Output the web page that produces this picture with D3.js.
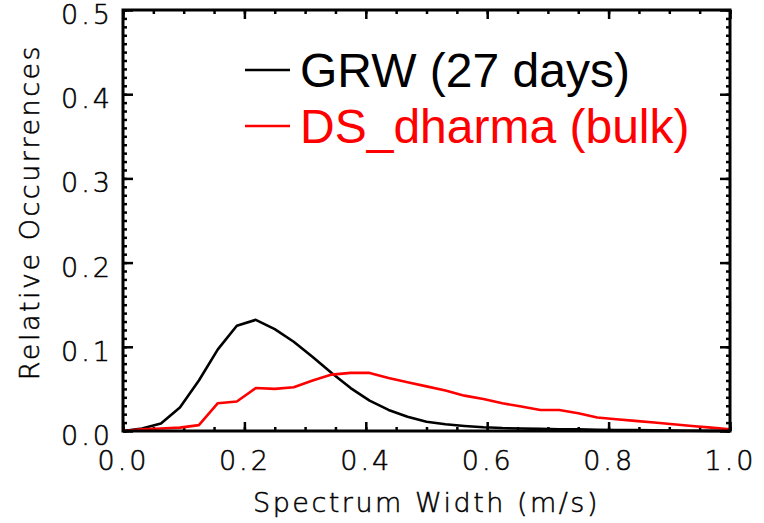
<!DOCTYPE html>
<html lang="en">
<head>
<meta charset="UTF-8">
<title>Spectrum Width</title>
<script src="https://d3js.org/d3.v7.min.js"></script>
<style>
    body { margin: 0; background: #fff; }
    .tick text, .axis-title {
        font-family: "DejaVu Sans", sans-serif;
        font-weight: 200;
        fill: #000;
        stroke: #000;
        stroke-width: 0.5px;
    }
    .legend text {
        font-family: "Liberation Sans", Arial, sans-serif;
    }
</style>
</head>
<body>
<script>
// bins of 1/32 m/s
const widths = d3.range(33).map(k => k / 32);

const grw = [0, 0.003, 0.009, 0.028, 0.060, 0.097, 0.125, 0.132, 0.121, 0.106,
    0.088, 0.069, 0.051, 0.036, 0.025, 0.017, 0.011, 0.008, 0.006, 0.0045,
    0.0035, 0.003, 0.0025, 0.002, 0.002, 0.0015, 0.001, 0.001, 0.0008, 0.0005,
    0.0003, 0.0002, 0.0001];

const dharma = [0, 0.002, 0.003, 0.004, 0.007, 0.033, 0.035, 0.051, 0.050, 0.052,
    0.060, 0.067, 0.069, 0.069, 0.063, 0.058, 0.053, 0.048, 0.042, 0.038,
    0.033, 0.029, 0.025, 0.025, 0.021, 0.016, 0.014, 0.012, 0.010, 0.008,
    0.006, 0.004, 0.002];

const seriesNames = ["GRW (27 days)", "DS_dharma (bulk)"];
const seriesColors = ["#000000", "#ff0000"];

const xMajor = [0, 0.2, 0.4, 0.6, 0.8, 1.0];
const yMajor = [0, 0.1, 0.2, 0.3, 0.4, 0.5];

const width = 764, height = 523;
const plotLeft = 123, plotRight = 730, plotTop = 10, plotBottom = 431;

const svg = d3.select("body").append("svg")
    .attr("width", width)
    .attr("height", height);

const x = d3.scaleLinear().domain([0, 1]).range([plotLeft, plotRight]);
const y = d3.scaleLinear().domain([0, 0.5]).range([plotBottom, plotTop]);

const xMinor = d3.range(0, 1.0001, 0.05);
const yMinor = d3.range(0, 0.5001, 0.01);

function styleTicks(g, w) {
    g.select(".domain").remove();
    g.selectAll(".tick line").attr("stroke", "#000").attr("stroke-width", w);
}

// minor ticks, all four sides
svg.append("g").attr("transform", `translate(0,${plotBottom})`)
    .call(d3.axisBottom(x).tickValues(xMinor).tickSize(-4).tickFormat(""))
    .call(g => styleTicks(g, 2.5));
svg.append("g").attr("transform", `translate(0,${plotTop})`)
    .call(d3.axisTop(x).tickValues(xMinor).tickSize(-4).tickFormat(""))
    .call(g => styleTicks(g, 2.5));
svg.append("g").attr("transform", `translate(${plotLeft},0)`)
    .call(d3.axisLeft(y).tickValues(yMinor).tickSize(-4).tickFormat(""))
    .call(g => styleTicks(g, 2.5));
svg.append("g").attr("transform", `translate(${plotRight},0)`)
    .call(d3.axisRight(y).tickValues(yMinor).tickSize(-4).tickFormat(""))
    .call(g => styleTicks(g, 2.5));

// major ticks with labels
svg.append("g").attr("transform", `translate(0,${plotBottom})`)
    .call(d3.axisBottom(x).tickValues(xMajor).tickSize(-9).tickPadding(20)
        .tickFormat(d3.format(".1f")))
    .call(g => styleTicks(g, 2.5))
    .call(g => g.selectAll(".tick text").attr("font-size", 27).attr("letter-spacing", 3));
svg.append("g").attr("transform", `translate(0,${plotTop})`)
    .call(d3.axisTop(x).tickValues(xMajor).tickSize(-9).tickFormat(""))
    .call(g => styleTicks(g, 2.5));
svg.append("g").attr("transform", `translate(${plotLeft},0)`)
    .call(d3.axisLeft(y).tickValues(yMajor).tickSize(-10).tickPadding(10)
        .tickFormat(d3.format(".1f")))
    .call(g => styleTicks(g, 2.5))
    .call(g => g.selectAll(".tick text").attr("font-size", 27).attr("letter-spacing", 3)
        .attr("dy", "0.5em"));
svg.append("g").attr("transform", `translate(${plotRight},0)`)
    .call(d3.axisRight(y).tickValues(yMajor).tickSize(-10).tickFormat(""))
    .call(g => styleTicks(g, 2.5));

// curves
const line = d3.line().x((d, i) => x(widths[i])).y(d => y(d));
[grw, dharma].forEach((vals, i) => {
    svg.append("path")
        .datum(vals)
        .attr("fill", "none")
        .attr("stroke", seriesColors[i])
        .attr("stroke-width", 2.6)
        .attr("stroke-linejoin", "round")
        .attr("d", line);
});

// frame
svg.append("rect")
    .attr("x", plotLeft).attr("y", plotTop)
    .attr("width", plotRight - plotLeft).attr("height", plotBottom - plotTop)
    .attr("fill", "none").attr("stroke", "#000").attr("stroke-width", 3);

// axis titles
svg.append("text").attr("class", "axis-title")
    .attr("x", (plotLeft + plotRight) / 2).attr("y", 512)
    .attr("text-anchor", "middle").attr("font-size", 27).attr("letter-spacing", 2.5)
    .text("Spectrum Width (m/s)");
svg.append("text").attr("class", "axis-title")
    .attr("transform", "translate(39,212) rotate(-90)")
    .attr("text-anchor", "middle").attr("font-size", 27).attr("letter-spacing", 2.5)
    .text("Relative Occurrences");

// legend
const legend = svg.append("g").attr("class", "legend");
seriesNames.forEach((name, i) => {
    const ly = 70 + i * 56;
    legend.append("line")
        .attr("x1", 245).attr("x2", 290).attr("y1", ly).attr("y2", ly)
        .attr("stroke", seriesColors[i]).attr("stroke-width", 2.6);
    legend.append("text")
        .attr("x", 300).attr("y", ly + 17)
        .attr("font-size", 48)
        .attr("fill", seriesColors[i])
        .text(name);
});
</script>
</body>
</html>
